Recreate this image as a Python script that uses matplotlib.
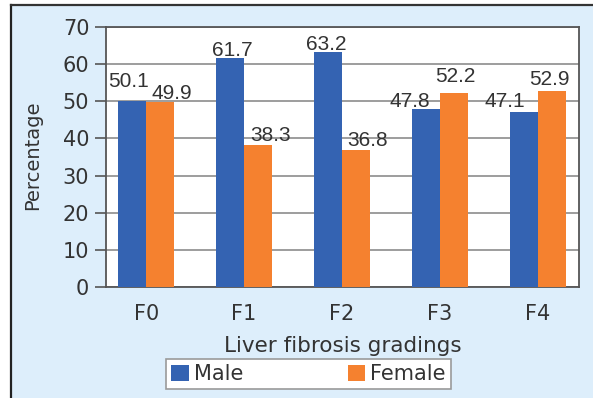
import matplotlib
matplotlib.use("Agg")
import matplotlib.pyplot as plt
from matplotlib.patches import Rectangle
from matplotlib.lines import Line2D
import numpy as np

categories = ["F0", "F1", "F2", "F3", "F4"]
male = [50.1, 61.7, 63.2, 47.8, 47.1]
female = [49.9, 38.3, 36.8, 52.2, 52.9]
yticks = [0, 10, 20, 30, 40, 50, 60, 70]

# label offsets in pixels (dx, dy) relative to bar top center
male_off = [(-4, 14), (2, 2), (-2, 2), (-16, 2), (-19, 5)]
female_off = [(12, 3), (13, 4), (12, 4), (1, 11), (-2, 6)]

W, H = 593, 398
fig = plt.figure(figsize=(W / 100, H / 100), dpi=100)
fig.patch.set_facecolor("white")
bg = "#ddeefb"
fig.patches.append(Rectangle((11 / W, 0), 1, (H - 5) / H, transform=fig.transFigure,
                             facecolor=bg, edgecolor="none", zorder=-10))
fig.lines.append(Line2D([11 / W, 11 / W], [0, (H - 5) / H], transform=fig.transFigure,
                        color="#222222", lw=1.6))
fig.lines.append(Line2D([11 / W, 1], [(H - 5) / H, (H - 5) / H], transform=fig.transFigure,
                        color="#333333", lw=1.6))

ax = fig.add_axes([106 / W, 1 - 287 / H, (579 - 106) / W, (287 - 27) / H])
ax.set_facecolor("white")

x = np.arange(len(categories))
bw = 0.285
blue = "#3463b2"
orange = "#f5812f"
b1 = ax.bar(x - bw / 2, male, bw, color=blue, label="Male", zorder=3)
b2 = ax.bar(x + bw / 2, female, bw, color=orange, label="Female", zorder=3)

ax.set_xlim(-0.41, 4.42)
ax.set_ylim(0, 70)
ax.set_yticks(yticks)
ax.set_xticks(x)
ax.set_xticklabels(categories)
ax.grid(axis="y", color="#8c8c8c", lw=1.2, zorder=0)
ax.set_axisbelow(True)

txt = "#333333"
ax.tick_params(axis="y", length=8, width=1.2, color="#555555", pad=4,
               labelsize=15, labelcolor=txt)
ax.tick_params(axis="x", length=0, pad=12, labelsize=15, labelcolor=txt)
for s in ax.spines.values():
    s.set_color("#555555")
    s.set_linewidth(1.3)

ax.set_xlabel("Liver fibrosis gradings", fontsize=15.5, color=txt, va="baseline")
ax.xaxis.set_label_coords(0.5, (287 - 352) / 260)
ax.set_ylabel("Percentage", fontsize=14, color=txt, va="center")
ax.yaxis.set_label_coords((33 - 106) / 473, (287 - 155) / 260)

for xi, v, (dx, dy) in zip(x - bw / 2, male, male_off):
    ax.annotate(f"{v}", (xi, v), xytext=(dx * 0.72, dy * 0.72), textcoords="offset points",
                ha="center", va="baseline", fontsize=15, color=txt,
                family="Liberation Sans")
for xi, v, (dx, dy) in zip(x + bw / 2, female, female_off):
    ax.annotate(f"{v}", (xi, v), xytext=(dx * 0.72, dy * 0.72), textcoords="offset points",
                ha="center", va="baseline", fontsize=15, color=txt,
                family="Liberation Sans")

leg = fig.legend(handles=[b1, b2], labels=["Male", "Female"], loc="center",
                 bbox_to_anchor=(308.5 / W, 1 - 374 / H), bbox_transform=fig.transFigure,
                 ncol=2, fontsize=15, frameon=True, fancybox=False, framealpha=1,
                 edgecolor="#9a9a9a", handlelength=0.85, handleheight=0.8,
                 handletextpad=0.25, columnspacing=5.0, borderpad=0.25,
                 borderaxespad=0)
leg.get_frame().set_linewidth(1.2)
for t in leg.get_texts():
    t.set_color(txt)

fig.savefig("out.png", dpi=100)
